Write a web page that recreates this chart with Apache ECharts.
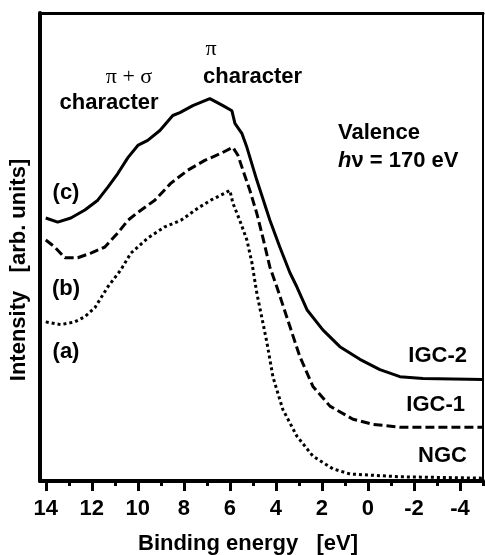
<!DOCTYPE html>
<html>
<head>
<meta charset="utf-8">
<script src="https://cdn.jsdelivr.net/npm/echarts@6/dist/echarts.min.js"></script>
<style>
  html, body { margin: 0; padding: 0; background: #fff; }
  #chart { width: 485px; height: 555px; }
</style>
</head>
<body>
<div id="chart"></div>
<script>
// binding energy [eV] / intensity [arb. units]
const igc2 = [
  [14.0, 56.2], [13.48, 55.3], [12.91, 56.2], [12.3, 57.9], [11.74, 60.0], [11.3, 62.8],
  [10.87, 65.7], [10.43, 69.1], [10.0, 71.7], [9.57, 72.8], [9.04, 74.9], [8.48, 78.1],
  [8.17, 78.7], [7.61, 80.2], [6.87, 81.7], [6.3, 80.2], [5.91, 79.1], [5.78, 76.4],
  [5.48, 74.3], [5.26, 71.3], [4.83, 64.3], [4.26, 55.7], [3.83, 50.0], [3.39, 44.5],
  [3.09, 41.5], [2.65, 36.6], [1.96, 32.3], [1.22, 28.7], [0.35, 26.0], [-0.52, 23.8],
  [-1.39, 22.3], [-2.39, 21.9], [-5.0, 21.7]
];
const igc1 = [
  [14.0, 51.5], [13.61, 50.0], [13.17, 47.7], [12.61, 47.7], [12.04, 48.7], [11.43, 50.0],
  [10.87, 53.0], [10.43, 55.7], [10.0, 57.4], [9.26, 60.0], [8.57, 63.6], [7.83, 66.4],
  [7.09, 68.5], [6.39, 70.0], [5.87, 71.3], [5.65, 69.6], [5.43, 66.4], [5.13, 62.1],
  [4.83, 57.2], [4.57, 52.1], [4.26, 45.7], [3.96, 41.5], [3.39, 33.0], [2.96, 26.6],
  [2.39, 20.2], [1.65, 16.0], [0.65, 13.2], [-0.22, 12.1], [-1.39, 11.5], [-5.0, 11.5]
];
const ngc = [
  [14.0, 34.0], [13.35, 33.4], [12.74, 34.0], [12.3, 35.1], [11.87, 37.0], [11.3, 41.5],
  [10.74, 45.1], [10.3, 48.7], [9.57, 51.9], [8.83, 54.3], [8.13, 55.7], [7.39, 58.3],
  [6.83, 60.0], [6.22, 61.5], [6.0, 62.1], [5.87, 59.4], [5.57, 55.7], [5.26, 51.5],
  [5.04, 46.6], [4.83, 40.2], [4.39, 29.6], [4.13, 22.3], [3.7, 15.3], [3.09, 9.6],
  [2.39, 5.3], [1.52, 2.6], [0.78, 1.5], [-1.39, 0.9], [-5.0, 0.6]
];
const majorTicks = [14, 12, 10, 8, 6, 4, 2, 0, -2, -4];
const minorTicks = [13, 11, 9, 7, 5, 3, 1, -1, -3, -5];

const FONT = 'Liberation Sans, Arial, sans-serif';
const SERIF = 'Liberation Serif, Times New Roman, serif';

const chart = echarts.init(document.getElementById('chart'));

function label(text, x, y, opts) {
  return {
    type: 'text',
    x: x,
    y: y,
    style: Object.assign({
      text: text,
      fill: '#000',
      font: 'bold 22px ' + FONT,
      align: 'center',
      verticalAlign: 'middle'
    }, opts || {})
  };
}

const option = {
  animation: false,
  grid: {
    left: 40, right: 2, top: 13, bottom: 74,
    show: true,
    borderColor: '#000',
    borderWidth: 2
  },
  xAxis: [
    {
      type: 'value',
      min: -5, max: 14.25,
      inverse: true,
      position: 'bottom',
      splitLine: { show: false },
      axisLine: { show: true, onZero: false, lineStyle: { color: '#000', width: 4 } },
      axisTick: { show: true, customValues: majorTicks, length: 10, lineStyle: { color: '#000', width: 3 } },
      axisLabel: {
        customValues: majorTicks,
        margin: 17,
        color: '#000',
        fontFamily: FONT,
        fontWeight: 'bold',
        fontSize: 22,
        lineHeight: 22
      }
    },
    {
      // minor ticks
      type: 'value',
      min: -5, max: 14.25,
      inverse: true,
      position: 'bottom',
      splitLine: { show: false },
      axisLine: { show: false },
      axisTick: { show: true, customValues: minorTicks, length: 5, lineStyle: { color: '#000', width: 3 } },
      axisLabel: { show: false }
    },
    {
      // top frame
      type: 'value',
      min: -5, max: 14.25,
      inverse: true,
      position: 'top',
      splitLine: { show: false },
      axisLine: { show: true, lineStyle: { color: '#000', width: 3 } },
      axisTick: { show: false },
      axisLabel: { show: false }
    }
  ],
  yAxis: {
    type: 'value',
    min: 0, max: 100,
    splitLine: { show: false },
    axisLine: { show: true, onZero: false, lineStyle: { color: '#000', width: 4 } },
    axisTick: { show: false },
    axisLabel: { show: false }
  },
  series: [
    {
      name: 'IGC-2', type: 'line', data: igc2, showSymbol: false,
      lineStyle: { color: '#000', width: 3 }
    },
    {
      name: 'IGC-1', type: 'line', data: igc1, showSymbol: false,
      lineStyle: { color: '#000', width: 3, type: [9, 4] }
    },
    {
      name: 'NGC', type: 'line', data: ngc, showSymbol: false,
      lineStyle: { color: '#000', width: 3, type: [3, 3] }
    }
  ],
  graphic: [
    label('Binding energy   [eV]', 248, 544),
    Object.assign(label('Intensity   [arb. units]', 19, 270), { rotation: Math.PI / 2 }),
    label('π + σ', 129, 77, { font: '22px ' + SERIF }),
    label('character', 109, 103),
    label('π', 211, 49, { font: '22px ' + SERIF }),
    label('character', 203, 77, { align: 'left' }),
    label('Valence', 338, 133, { align: 'left' }),
    label('{i|h}{n|ν} = 170 eV', 338, 161, {
      align: 'left',
      rich: {
        i: { font: 'italic bold 22px ' + FONT },
        n: { font: 'bold 22px ' + FONT }
      }
    }),
    label('(c)', 66, 193),
    label('(b)', 66, 289),
    label('(a)', 66, 352),
    label('IGC-2', 467, 356, { align: 'right' }),
    label('IGC-1', 465, 405, { align: 'right' }),
    label('NGC', 467, 456, { align: 'right' })
  ]
};

chart.setOption(option);
</script>
</body>
</html>
